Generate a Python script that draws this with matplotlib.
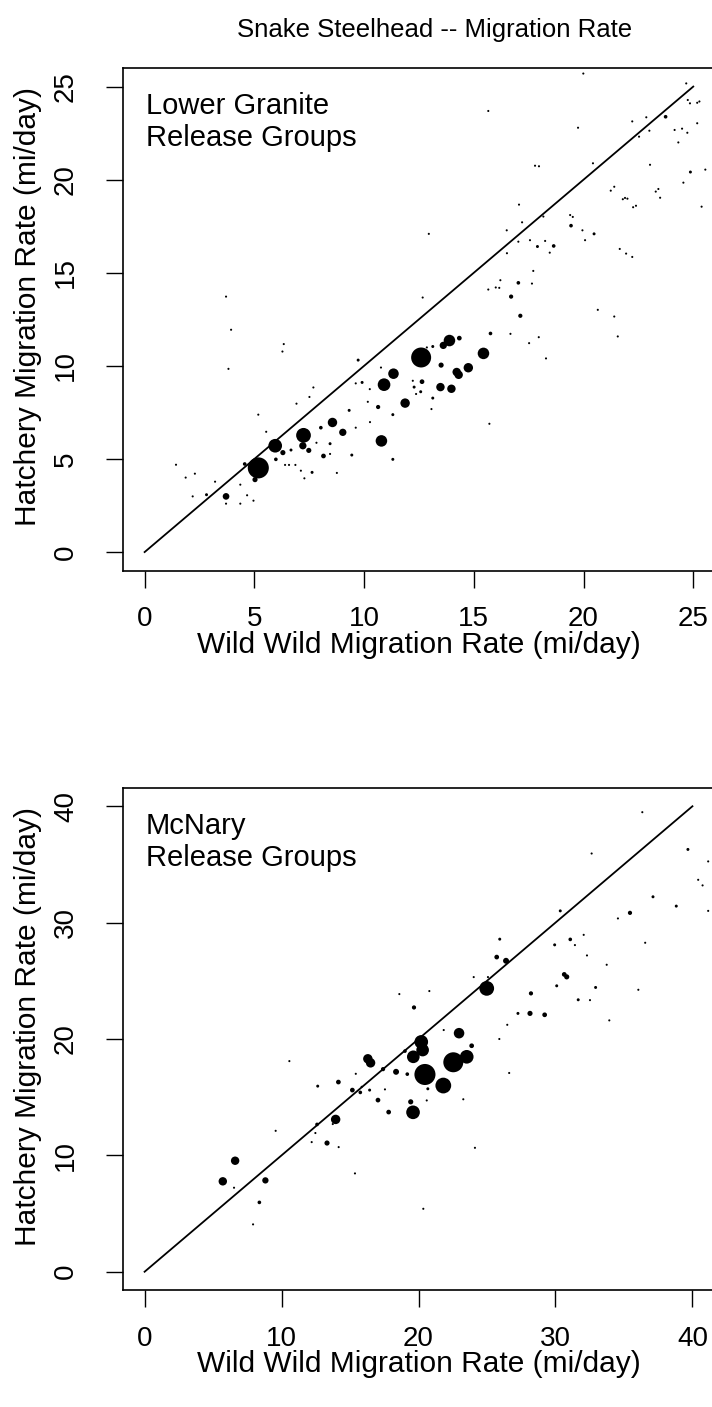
import numpy as np
import matplotlib.pyplot as plt

plt.rcParams['font.family'] = ['Liberation Sans', 'DejaVu Sans']

# Lower Granite release groups: wild rate, hatchery rate, fish per group
lgr_wild = [3.71, 19.99, 15.66, 24.68, 24.75, 24.85, 25.18, 25.28, 23.74, 22.22,
            22.86, 23.0, 22.53, 24.15, 24.49, 24.73, 24.32, 25.18, 19.75, 20.43,
            23.03, 24.87, 25.55, 24.55, 25.38, 17.79, 17.97, 21.24, 21.4, 21.79,
            21.89, 22.0, 22.26, 22.39, 23.29, 23.41, 23.49, 17.06, 18.17, 17.2,
            16.5, 12.95, 17.03, 17.56, 18.25, 17.9, 18.64, 18.46, 19.39, 19.51,
            19.43, 19.95, 20.48, 20.07, 21.65, 21.94, 22.22, 16.51, 17.71, 16.21,
            15.66, 16.0, 16.16, 17.03, 17.65, 16.7, 17.12, 12.67, 20.65, 21.4,
            21.56, 15.76, 16.67, 17.96, 17.52, 18.29, 12.6, 13.89, 13.61, 14.34,
            13.13, 12.86, 15.44, 13.51, 14.75, 14.22, 14.31, 12.64, 13.48, 13.98,
            12.22, 12.28, 12.37, 12.58, 13.13, 13.07, 15.71,
            3.94, 3.82, 6.34, 6.28, 9.73, 9.91, 9.62, 7.69, 7.51, 6.92,
            5.18, 10.77, 11.34, 10.91, 11.87, 10.26, 10.64, 10.17, 11.31, 10.27,
            9.32, 9.62, 8.56, 9.03, 8.03, 7.83, 8.45, 8.45, 8.15, 9.44,
            8.76, 10.79, 11.31, 7.24, 7.21, 7.48, 6.67, 5.95, 6.3, 5.98,
            6.4, 6.58, 6.87, 7.12, 7.63, 7.28, 5.18, 5.03, 4.56, 5.54,
            4.36, 4.67, 4.96, 4.36, 3.71, 3.71, 3.21, 2.82, 2.19, 2.29,
            1.87, 1.43]
lgr_hatch = [13.72, 25.7, 23.69, 25.17, 24.28, 24.1, 24.13, 24.2, 23.38, 23.13,
             23.35, 22.63, 22.31, 22.67, 22.74, 22.52, 22.0, 23.03, 22.79, 20.88,
             20.8, 20.41, 20.54, 19.84, 18.55, 20.75, 20.72, 19.41, 19.62, 18.95,
             19.02, 18.98, 18.52, 18.6, 19.36, 19.5, 19.03, 18.66, 18.02, 17.71,
             17.28, 17.09, 16.67, 16.75, 16.71, 16.41, 16.44, 16.08, 18.1, 18.0,
             17.53, 17.28, 17.09, 16.75, 16.28, 16.03, 15.85, 16.05, 15.1, 14.6,
             14.1, 14.21, 14.19, 14.46, 14.42, 13.72, 12.69, 13.67, 13.01, 12.65,
             11.58, 11.74, 11.72, 11.54, 11.22, 10.4, 10.45, 11.36, 11.1, 11.49,
             11.04, 10.99, 10.67, 10.04, 9.9, 9.67, 9.52, 9.15, 8.86, 8.77,
             9.2, 8.86, 8.49, 8.61, 8.27, 7.68, 6.89,
             11.94, 9.84, 11.17, 10.77, 10.31, 9.11, 9.06, 8.84, 8.33, 7.97,
             7.38, 9.91, 9.58, 8.99, 8.0, 8.75, 7.79, 8.07, 7.38, 6.98,
             7.61, 6.68, 6.96, 6.43, 6.68, 5.87, 5.82, 5.27, 5.16, 5.21,
             4.25, 5.97, 4.98, 6.27, 5.71, 5.46, 5.48, 5.71, 5.34, 4.98,
             4.68, 4.68, 4.68, 4.37, 4.28, 3.96, 4.52, 3.89, 4.73, 6.46,
             3.62, 3.05, 2.76, 2.6, 2.99, 2.6, 3.78, 3.08, 2.99, 4.21,
             4.0, 4.69]
lgr_n = [1, 1, 1, 1, 1, 1, 1, 1, 3, 1,
         1, 1, 1, 1, 1, 1, 1, 1, 1, 1,
         1, 2, 1, 1, 1, 1, 1, 1, 1, 1,
         1, 1, 1, 1, 1, 1, 1, 1, 1, 1,
         1, 1, 1, 1, 1, 2, 3, 1, 1, 1,
         3, 1, 2, 1, 1, 1, 1, 1, 1, 1,
         1, 1, 1, 3, 1, 4, 4, 1, 1, 1,
         1, 3, 1, 1, 1, 1, 90, 30, 12, 5,
         2, 1, 30, 6, 20, 16, 16, 5, 16, 16,
         1, 2, 1, 2, 2, 1, 1,
         1, 1, 1, 1, 2, 2, 1, 1, 1, 1,
         1, 1, 25, 36, 20, 1, 4, 1, 2, 1,
         2, 1, 20, 12, 3, 1, 2, 1, 5, 2,
         1, 30, 2, 49, 12, 6, 2, 42, 6, 3,
         1, 1, 1, 1, 2, 1, 100, 6, 3, 1,
         1, 1, 1, 1, 10, 1, 1, 2, 1, 1,
         1, 1]

# McNary release groups
mcn_wild = [18.6, 19.67, 36.34, 32.64, 39.67, 41.15, 40.42, 40.74, 41.15, 37.12,
            38.82, 35.44, 34.56, 36.55, 30.35, 25.93, 29.94, 31.08, 31.42, 32.06,
            32.3, 33.74, 25.71, 26.39, 24.03, 25.07, 24.98, 20.79, 30.64, 30.82,
            30.09, 32.93, 36.05, 28.21, 31.66, 32.52, 27.26, 28.14, 29.21, 33.93,
            26.48, 21.84, 22.96, 25.9, 23.88, 20.2, 20.3, 19.62, 19.01, 16.3,
            16.5, 17.41, 18.36, 19.18, 20.47, 22.54, 23.52, 21.81, 20.68, 26.62,
            15.42, 14.15, 12.64, 15.17, 15.75, 15.85, 16.43, 17.55, 17.04, 17.82,
            19.43, 19.6, 20.6, 23.27, 13.95, 13.74, 12.59, 12.47, 12.2, 13.32,
            14.17, 15.36, 9.57, 6.61, 5.71, 6.53, 8.82, 8.38, 7.92, 10.57,
            24.12, 20.35]
mcn_hatch = [23.86, 22.71, 39.49, 35.94, 36.29, 35.26, 33.68, 33.2, 31.01, 32.22,
             31.42, 30.84, 30.36, 28.27, 31.01, 28.58, 28.09, 28.56, 28.07, 28.95,
             27.18, 26.38, 27.04, 26.72, 25.32, 25.32, 24.35, 24.12, 25.55, 25.34,
             24.57, 24.43, 24.23, 23.92, 23.37, 23.34, 22.2, 22.2, 22.08, 21.6,
             21.22, 20.77, 20.5, 20.0, 19.42, 19.75, 19.05, 18.47, 18.96, 18.3,
             17.95, 17.41, 17.18, 16.98, 16.95, 18.0, 18.47, 16.0, 15.72, 17.08,
             17.01, 16.3, 15.95, 15.61, 15.41, 15.89, 15.61, 15.67, 14.75, 13.72,
             14.6, 13.7, 14.72, 14.82, 13.09, 12.69, 12.66, 11.92, 11.14, 11.06,
             10.71, 8.45, 12.11, 9.54, 7.77, 7.22, 7.85, 5.96, 4.07, 18.1,
             10.65, 5.41]
mcn_n = [1, 4, 1, 1, 2, 1, 1, 1, 1, 2,
         2, 4, 1, 1, 2, 2, 2, 3, 1, 1,
         1, 1, 5, 8, 1, 1, 49, 1, 5, 6,
         2, 2, 1, 4, 2, 1, 2, 6, 5, 1,
         1, 1, 25, 1, 5, 42, 36, 36, 3, 20,
         20, 4, 8, 3, 100, 90, 42, 56, 2, 1,
         1, 5, 2, 5, 3, 1, 2, 1, 5, 5,
         6, 42, 1, 1, 20, 1, 3, 1, 1, 6,
         1, 1, 1, 16, 16, 1, 9, 3, 1, 1,
         1, 1]

fig = plt.figure(figsize=(7.12, 14.07), dpi=100)
fig.text(0.611, 1 - 30 / 1407, 'Snake Steelhead -- Migration Rate',
         ha='center', va='center', fontsize=18.5)


def panel(rect, wild, hatch, n, top, step, site):
    ax = fig.add_axes(rect)
    pad = top * 0.04
    ax.set_xlim(-pad, top + pad)
    ax.set_ylim(-pad, top + pad)
    ax.plot([0, top], [0, top], color='black', lw=1.3)
    ax.scatter(wild, hatch, s=2.3 * np.asarray(n), color='black',
               linewidths=0, zorder=3)
    ticks = np.arange(0, top + 1, step)
    ax.set_xticks(ticks)
    ax.set_yticks(ticks)
    ax.set_yticklabels([str(int(t)) for t in ticks], rotation=90, va='center')
    ax.tick_params(axis='both', direction='out', length=12.5, width=1.0,
                   labelsize=20)
    ax.tick_params(axis='x', pad=13)
    ax.tick_params(axis='y', pad=19)
    for sp in ax.spines.values():
        sp.set_linewidth(1.2)
    ax.set_xlabel('Wild Wild Migration Rate (mi/day)', fontsize=21.5, va='center')
    ax.xaxis.set_label_coords(0.5, -0.147)
    ax.set_ylabel('Hatchery Migration Rate (mi/day)', fontsize=21.5, va='center')
    ax.yaxis.set_label_coords(-0.16, 0.525)
    ax.text(0.039, 0.952, site + '\nRelease Groups', transform=ax.transAxes,
            ha='left', va='top', fontsize=21, linespacing=1.2)
    return ax


panel([0.1723, 0.5944, 0.8322, 0.3573], lgr_wild, lgr_hatch, lgr_n, 25, 5,
      'Lower Granite')
panel([0.1723, 0.0829, 0.831, 0.3573], mcn_wild, mcn_hatch, mcn_n, 40, 10,
      'McNary')

fig.savefig('out.png', dpi=100)
